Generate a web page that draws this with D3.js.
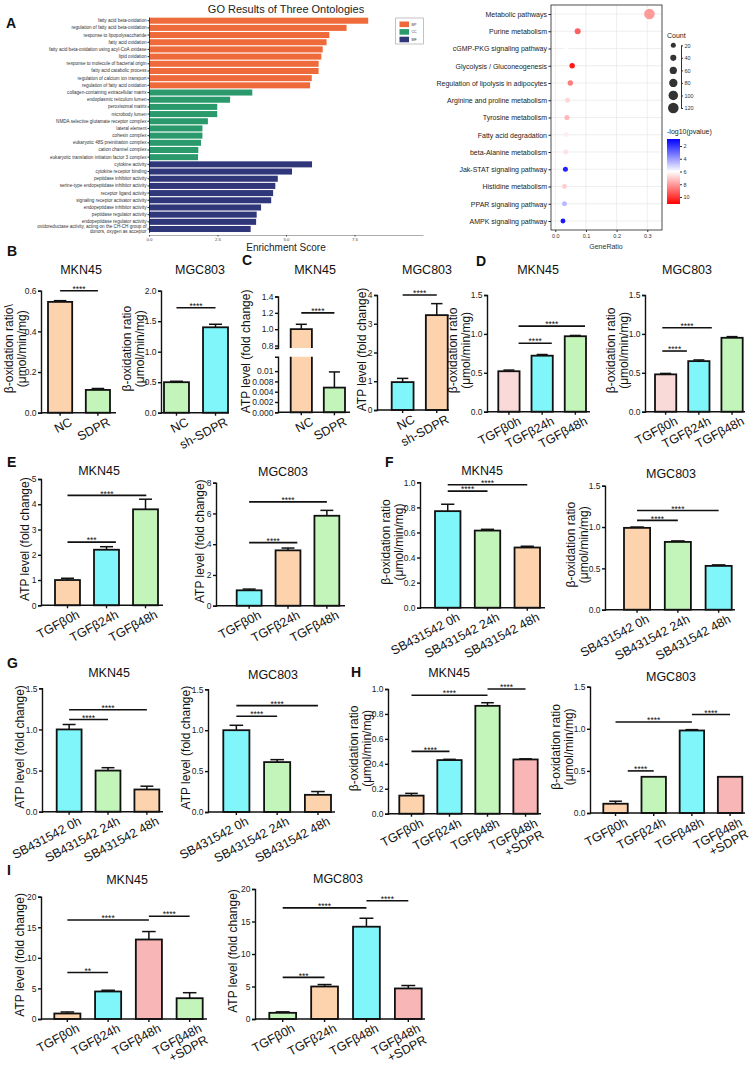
<!DOCTYPE html>
<html>
<head>
<meta charset="utf-8">
<script src="https://cdn.jsdelivr.net/npm/d3@7"></script>
<style>
  body { margin: 0; background: #fff; }
  svg { display: block; font-family: "Liberation Sans", Arial, sans-serif; }
</style>
</head>
<body>
<svg id="fig" width="756" height="1065"></svg>
<script>
// --- A: GO enrichment (three ontologies) ---
const goTermsBP = ["fatty acid beta-oxidation", "regulation of fatty acid beta-oxidation", "response to lipopolysaccharide",
  "fatty acid oxidation", "fatty acid beta-oxidation using acyl-CoA oxidase", "lipid oxidation",
  "response to molecule of bacterial origin", "fatty acid catabolic process", "regulation of calcium ion transport",
  "regulation of fatty acid oxidation"];
const goScoresBP = [8.0, 7.21, 6.58, 6.48, 6.34, 6.29, 6.19, 6.19, 5.94, 5.88];
const goTermsCC = ["collagen-containing extracellular matrix", "endoplasmic reticulum lumen", "peroxisomal matrix",
  "microbody lumen", "NMDA selective glutamate receptor complex", "lateral element", "cohesin complex",
  "eukaryotic 48S preinitiation complex", "cation channel complex", "eukaryotic translation initiation factor 3 complex"];
const goScoresCC = [3.77, 2.96, 2.49, 2.49, 2.15, 1.95, 1.95, 1.90, 1.80, 1.79];
const goTermsMF = ["cytokine activity", "cytokine receptor binding", "peptidase inhibitor activity",
  "serine-type endopeptidase inhibitor activity", "receptor ligand activity", "signaling receptor activator activity",
  "endopeptidase inhibitor activity", "peptidase regulator activity", "endopeptidase regulator activity",
  "oxidoreductase activity, acting on the CH-CH group of\ndonors, oxygen as acceptor"];
const goScoresMF = [5.95, 5.22, 4.70, 4.61, 4.53, 4.46, 4.09, 3.93, 3.91, 3.71];
const goOntologies = ["BP", "CC", "MF"];
const goTicks = [0, 2.5, 5, 7.5];

// --- A: KEGG dot plot ---
const keggPathways = ["Metabolic pathways", "Purine metabolism", "cGMP-PKG signaling pathway",
  "Glycolysis / Gluconeogenesis", "Regulation of lipolysis in adipocytes", "Arginine and proline metabolism",
  "Tyrosine metabolism", "Fatty acid degradation", "beta-Alanine metabolism", "Jak-STAT signaling pathway",
  "Histidine metabolism", "PPAR signaling pathway", "AMPK signaling pathway"];
const keggGeneRatio = [0.307, 0.073, 0.035, 0.055, 0.049, 0.040, 0.038, 0.035, 0.034, 0.033, 0.030, 0.030, 0.025];
const keggCount = [120, 38, 18, 28, 26, 20, 22, 16, 18, 20, 18, 18, 18];
const keggLogP = [8.0, 9.2, 6.0, 10.6, 8.6, 6.8, 7.4, 6.35, 6.6, 1.6, 7.0, 4.6, 1.4];
const keggTicks = [0, 0.1, 0.2, 0.3];
const countBreaks = [20, 40, 60, 80, 100, 120];
const logPTicks = [2, 4, 6, 8, 10];

// --- bar panels B-I: categories ---
const catNC = ["NC", "SDPR"];
const catSh = ["NC", "sh-SDPR"];
const catTGF = ["TGFβ0h", "TGFβ24h", "TGFβ48h"];
const catSB = ["SB431542 0h", "SB431542 24h", "SB431542 48h"];
const catRescue = ["TGFβ0h", "TGFβ24h", "TGFβ48h", "TGFβ48h\n+SDPR"];

// mean values and SEM per panel
const bMknVal = [0.545, 0.112], bMknErr = [0.006, 0.007];
const bMgcVal = [0.50, 1.40],   bMgcErr = [0.015, 0.05];
const cMknVal = [1.0, 0.006],   cMknErr = [0.06, 0.0038];
const cMgcVal = [0.97, 3.3],    cMgcErr = [0.13, 0.4];
const dMknVal = [0.52, 0.72, 0.97], dMknErr = [0.015, 0.015, 0.01];
const dMgcVal = [0.48, 0.65, 0.95], dMgcErr = [0.012, 0.015, 0.015];
const eMknVal = [1.0, 2.2, 3.8],    eMknErr = [0.07, 0.12, 0.4];
const eMgcVal = [1.0, 3.6, 5.85],   eMgcErr = [0.08, 0.15, 0.35];
const fMknVal = [0.77, 0.615, 0.48], fMknErr = [0.055, 0.01, 0.01];
const fMgcVal = [0.99, 0.82, 0.53],  fMgcErr = [0.01, 0.012, 0.012];
const gMknVal = [1.0, 0.5, 0.27],    gMknErr = [0.06, 0.035, 0.04];
const gMgcVal = [1.0, 0.61, 0.21],   gMgcErr = [0.06, 0.03, 0.04];
const hMknVal = [0.145, 0.43, 0.865, 0.435], hMknErr = [0.018, 0.006, 0.025, 0.005];
const hMgcVal = [0.11, 0.43, 0.98, 0.43],    hMgcErr = [0.03, 0, 0.01, 0];
const iMknVal = [0.9, 4.5, 13, 3.4],  iMknErr = [0.25, 0.2, 1.3, 0.9];
const iMgcVal = [0.95, 5.0, 14.2, 4.7], iMgcErr = [0.15, 0.3, 1.3, 0.45];

// significance brackets: [from group, to group, height, stars]
const bMknSig = [[0, 1, 0.6, "****"]];
const bMgcSig = [[0, 1, 1.72, "****"]];
const cMknSig = [[0, 1, 1.2, "****"]];
const cMgcSig = [[0, 1, 4.0, "****"]];
const dMknSig = [[0.29, 1.29, 0.88, "****"], [0.29, 2.29, 1.1, "****"]];
const dMgcSig = [[-0.1, 0.64, 0.78, "****"], [-0.1, 1.39, 1.08, "****"]];
const eMknSig = [[0, 1.24, 2.5, "***"], [0, 2.02, 4.35, "****"]];
const eMgcSig = [[0, 1.24, 4.1, "****"], [0, 2, 6.75, "****"]];
const fMknSig = [[0, 1, 0.93, "****"], [0, 2, 0.98, "****"]];
const fMgcSig = [[0, 1, 1.08, "****"], [0, 2, 1.2, "****"]];
const gMknSig = [[0, 1, 1.12, "****"], [0, 2, 1.24, "****"]];
const gMgcSig = [[0, 1, 1.17, "****"], [0, 2, 1.3, "****"]];
const hMknSig = [[0, 1, 0.5, "****"], [0, 2, 0.95, "****"], [2, 3, 1.0, "****"]];
const hMgcSig = [[0.32, 1, 0.5, "****"], [0, 2, 1.08, "****"], [2, 3, 1.17, "****"]];
const iMknSig = [[0, 1, 7.6, "**"], [0, 2, 16.2, "****"], [2, 3, 16.8, "****"]];
const iMgcSig = [[0, 1, 6.4, "***"], [0, 2, 17.1, "****"], [2, 3, 18.2, "****"]];

// C (MKN45) broken axis ticks
const cLowTicks = [0, 0.0025, 0.005, 0.0075, 0.01];
const cLowLabels = ["0.000", "0.002", "0.004", "0.008", "0.01"];
const cHighTicks = [0.8, 1.0, 1.2, 1.4];

const INK = "#111";
const peach = "#FDD3AE", cyan = "#80F6FA", green = "#C3F5BA", pink = "#FAD9D9", salmon = "#F8B6B6";
const goColors = { BP: "#EF6A3A", CC: "#2A9A6C", MF: "#30367A" };
const BETA = ["β-oxidation ratio", "(μmol/min/mg)"];
const ATP = ["ATP level (fold change)"];

const svg = d3.select("#fig");
svg.append("rect").attr("width", 756).attr("height", 1065).attr("fill", "#fff");

function styleAxis(sel, fs, col) {
  sel.attr("font-family", null).attr("font-size", null);
  sel.selectAll("text").attr("font-size", fs).attr("fill", col || INK);
  sel.selectAll(".domain, .tick line").attr("stroke", col || INK);
}

// ===== Panel A: GO bars =====
(function () {
  const rows = [];
  [[goTermsBP, goScoresBP], [goTermsCC, goScoresCC], [goTermsMF, goScoresMF]].forEach(([terms, scores], k) => {
    terms.forEach((t, i) => rows.push({ term: t, score: scores[i], ont: goOntologies[k] }));
  });
  const x = d3.scaleLinear().domain([0, 10]).range([149, 423]);
  const y = d3.scaleBand().domain(rows.map(d => d.term)).range([17.1, 232.6]).paddingInner(0.16).paddingOuter(0.08);
  const g = svg.append("g");

  g.append("text").attr("x", 286).attr("y", 13).attr("text-anchor", "middle")
    .attr("font-size", 11).attr("fill", "#222").text("GO Results of Three Ontologies");

  g.selectAll("rect.go").data(rows).join("rect").attr("class", "go")
    .attr("x", x(0)).attr("y", d => y(d.term))
    .attr("width", d => x(d.score) - x(0)).attr("height", y.bandwidth())
    .attr("fill", d => goColors[d.ont]);

  const ay = g.append("g").attr("transform", `translate(${x(0)},0)`)
    .call(d3.axisLeft(y).tickSize(1.5).tickPadding(1).tickSizeOuter(0));
  styleAxis(ay, 4.6, "#333");
  ay.select(".domain").attr("stroke", "#111").attr("stroke-width", 0.7);
  ay.selectAll(".tick text").each(function (d) {
    const lines = d.split("\n");
    if (lines.length < 2) return;
    const t = d3.select(this), xx = t.attr("x");
    t.text(null).attr("dy", null);
    lines.forEach((l, k) => t.append("tspan").attr("x", xx).attr("dy", k ? "1.05em" : "-0.2em").text(l));
  });

  const ax = g.append("g").attr("transform", "translate(0,235)")
    .call(d3.axisBottom(x).tickValues(goTicks).tickFormat(d3.format(".1f")).tickSize(1.5).tickPadding(1).tickSizeOuter(0));
  styleAxis(ax, 4.4, "#444");
  ax.select(".domain").attr("stroke", "#999").attr("stroke-width", 0.8);

  g.append("text").attr("x", 286).attr("y", 250.5).attr("text-anchor", "middle")
    .attr("font-size", 10).attr("fill", "#222").text("Enrichment Score");

  // legend
  const lg = g.append("g");
  lg.append("rect").attr("x", 395.7).attr("y", 18).attr("width", 27.6).attr("height", 26)
    .attr("fill", "#fff").attr("stroke", "#999").attr("stroke-width", 0.6);
  goOntologies.forEach((o, k) => {
    lg.append("rect").attr("x", 399.5).attr("y", 21.5 + k * 7.6).attr("width", 9.5).attr("height", 5.6).attr("fill", goColors[o]);
    lg.append("text").attr("x", 411.5).attr("y", 25.8 + k * 7.6).attr("font-size", 3.6).attr("fill", "#333").text(o);
  });
})();

// ===== Panel A: KEGG dot plot =====
(function () {
  const x = d3.scaleLinear().domain([-0.014, 0.348]).range([551, 662]);
  const y = d3.scalePoint().domain(keggPathways).range([14, 221]);
  const r = d3.scaleLinear().domain([20, 120]).range([2.5, 5.3]);
  const col = d3.scaleLinear().domain([0.9, 6, 11.1]).range(["#0000ff", "#ffffff", "#ff0000"]);
  const g = svg.append("g");

  g.selectAll("line.hg").data(keggPathways).join("line").attr("class", "hg")
    .attr("x1", 551).attr("x2", 662).attr("y1", d => y(d)).attr("y2", d => y(d))
    .attr("stroke", "#e6e6e6").attr("stroke-width", 0.7);
  g.selectAll("line.vg").data(keggTicks).join("line").attr("class", "vg")
    .attr("x1", d => x(d)).attr("x2", d => x(d)).attr("y1", 5).attr("y2", 230)
    .attr("stroke", "#e6e6e6").attr("stroke-width", 0.7);

  const pts = keggPathways.map((p, i) => ({ p, ratio: keggGeneRatio[i], n: keggCount[i], lp: keggLogP[i] }));
  g.selectAll("circle.k").data(pts).join("circle").attr("class", "k")
    .attr("cx", d => x(d.ratio)).attr("cy", d => y(d.p)).attr("r", d => r(d.n))
    .attr("fill", d => col(d.lp));

  g.append("rect").attr("x", 551).attr("y", 5).attr("width", 111).attr("height", 225)
    .attr("fill", "none").attr("stroke", "#222").attr("stroke-width", 0.8);

  const ay = g.append("g").attr("transform", "translate(551,0)")
    .call(d3.axisLeft(y).tickSize(2.5).tickPadding(1.5));
  styleAxis(ay, 7, "#222");
  ay.select(".domain").remove();

  const ax = g.append("g").attr("transform", "translate(0,230)")
    .call(d3.axisBottom(x).tickValues(keggTicks).tickFormat(d3.format(".1f")).tickSize(2).tickPadding(2).tickSizeOuter(0));
  styleAxis(ax, 5.5, "#333");
  ax.select(".domain").remove();
  g.append("text").attr("x", 606).attr("y", 249).attr("text-anchor", "middle")
    .attr("font-size", 7).attr("fill", "#333").text("GeneRatio");

  // count legend
  g.append("text").attr("x", 667).attr("y", 38).attr("font-size", 7).attr("fill", "#222").text("Count");
  const cy = d3.scalePoint().domain(countBreaks).range([45.3, 108]);
  g.selectAll("circle.cl").data(countBreaks).join("circle").attr("class", "cl")
    .attr("cx", 673.3).attr("cy", d => cy(d)).attr("r", d => r(d)).attr("fill", "#333");
  const ca = g.append("g").attr("transform", "translate(681,0)")
    .call(d3.axisRight(cy).tickSize(2).tickPadding(1.5).tickSizeOuter(0));
  styleAxis(ca, 5.5, "#333");

  // colour bar
  g.append("text").attr("x", 667).attr("y", 134).attr("font-size", 7).attr("fill", "#222").text("-log10(pvalue)");
  const cb = d3.scaleLinear().domain([0.9, 11.1]).range([139, 204]);
  const grad = svg.append("defs").append("linearGradient").attr("id", "cbGrad")
    .attr("x1", 0).attr("x2", 0).attr("y1", 0).attr("y2", 1);
  d3.range(0, 1.0001, 0.1).forEach(t => {
    grad.append("stop").attr("offset", t).attr("stop-color", col(0.9 + t * 10.2));
  });
  g.append("rect").attr("x", 667).attr("y", 139).attr("width", 13).attr("height", 65).attr("fill", "url(#cbGrad)");
  const cba = g.append("g").attr("transform", "translate(680,0)")
    .call(d3.axisRight(cb).tickValues(logPTicks).tickSize(2).tickPadding(1.5).tickSizeOuter(0));
  styleAxis(cba, 5.5, "#333");
  cba.select(".domain").remove();
})();

// ===== bar panels =====
function barPanel(p) {
  const g = svg.append("g");
  const x = d3.scaleBand().domain(p.cats).range(p.bars).paddingInner(0.36).paddingOuter(0);
  const bw = x.bandwidth(), step = x.step();
  const cx = t => p.bars[0] + bw / 2 + t * step;

  let yOf, axes, top;
  if (p.brk) {
    const b = p.brk;
    const yl = d3.scaleLinear().domain(b.low).range(b.lowPix);
    const yh = d3.scaleLinear().domain(b.high).range(b.highPix);
    yOf = v => (v >= b.high[0] ? yh(v) : yl(v));
    axes = [
      d3.axisLeft(yl).tickValues(b.lowTicks).tickFormat((d, i) => b.lowLabels[i]).tickSizeOuter(3),
      d3.axisLeft(yh).tickValues(b.highTicks).tickFormat(d3.format(".1f")).tickSizeOuter(3)
    ];
    top = b.highPix[1];
  } else {
    const y = d3.scaleLinear().domain(p.domain).range([p.y0, p.y1]);
    yOf = y;
    axes = [d3.axisLeft(y).tickValues(p.ticks).tickFormat(d3.format(p.fmt)).tickSizeOuter(0)];
    top = p.y1;
  }
  const base = yOf(0);
  const rows = p.vals.map((v, i) => ({ c: p.cats[i], v, e: p.errs[i], f: p.fill[i], i }));
  const broken = d => p.brk && d.v >= p.brk.high[0];

  // plain bars
  g.selectAll("rect.bar").data(rows.filter(d => !broken(d))).join("rect").attr("class", "bar")
    .attr("x", d => x(d.c)).attr("width", bw)
    .attr("y", d => yOf(d.v)).attr("height", d => base - yOf(d.v))
    .attr("fill", d => d.f).attr("stroke", INK).attr("stroke-width", 1.8);

  // bars crossing the axis break
  rows.filter(broken).forEach(d => {
    const bx = x(d.c), lowTop = p.brk.lowPix[1], highBot = p.brk.highPix[0], yt = yOf(d.v);
    g.append("rect").attr("x", bx).attr("y", lowTop).attr("width", bw).attr("height", base - lowTop).attr("fill", d.f);
    g.append("rect").attr("x", bx).attr("y", yt).attr("width", bw).attr("height", highBot - yt).attr("fill", d.f);
    g.append("path")
      .attr("d", `M${bx},${lowTop}V${base}H${bx + bw}V${lowTop}M${bx},${highBot}V${yt}H${bx + bw}V${highBot}`)
      .attr("fill", "none").attr("stroke", INK).attr("stroke-width", 1.8);
  });

  // error bars (upper half, GraphPad style)
  const eb = rows.filter(d => d.e > 0);
  g.selectAll("line.err").data(eb).join("line").attr("class", "err")
    .attr("x1", d => cx(d.i)).attr("x2", d => cx(d.i))
    .attr("y1", d => yOf(d.v)).attr("y2", d => yOf(d.v + d.e))
    .attr("stroke", INK).attr("stroke-width", 1.5);
  g.selectAll("line.cap").data(eb).join("line").attr("class", "cap")
    .attr("x1", d => cx(d.i) - bw * 0.26).attr("x2", d => cx(d.i) + bw * 0.26)
    .attr("y1", d => yOf(d.v + d.e)).attr("y2", d => yOf(d.v + d.e))
    .attr("stroke", INK).attr("stroke-width", 1.5);

  // y axis
  axes.forEach(a => {
    const ag = g.append("g").attr("transform", `translate(${p.ax},0)`)
      .call(a.tickSize(3).tickPadding(1.5));
    styleAxis(ag, 8.5, "#222");
    ag.selectAll(".domain, .tick line").attr("stroke", INK).attr("stroke-width", 1.4);
  });

  // x axis
  const xg = g.append("g").attr("transform", `translate(0,${base})`)
    .call(d3.axisBottom(x).tickSize(3).tickSizeOuter(0));
  styleAxis(xg, 12.5, INK);
  xg.select(".domain").remove();
  xg.selectAll(".tick line").attr("stroke-width", 1.4);
  xg.selectAll(".tick text").each(function (d) {
    const t = d3.select(this);
    t.text(null).attr("y", null).attr("dy", null).attr("text-anchor", "end")
      .attr("transform", "translate(13,12) rotate(-28)");
    d.split("\n").forEach((l, k) => t.append("tspan").attr("x", 0).attr("dy", k ? "1.05em" : 0).text(l));
  });
  g.append("line").attr("x1", p.ax).attr("x2", p.xEnd).attr("y1", base).attr("y2", base)
    .attr("stroke", INK).attr("stroke-width", 1.5);

  // significance brackets
  g.selectAll("line.sig").data(p.sig).join("line").attr("class", "sig")
    .attr("x1", d => cx(d[0])).attr("x2", d => cx(d[1]))
    .attr("y1", d => yOf(d[2])).attr("y2", d => yOf(d[2]))
    .attr("stroke", INK).attr("stroke-width", 1.6);
  g.selectAll("text.sig").data(p.sig).join("text").attr("class", "sig")
    .attr("x", d => (cx(d[0]) + cx(d[1])) / 2).attr("y", d => yOf(d[2]) + 1.2)
    .attr("text-anchor", "middle").attr("font-size", 8.5).attr("fill", INK).text(d => d[3]);

  // title and y label
  g.append("text").attr("x", p.tx).attr("y", p.ty).attr("text-anchor", "middle")
    .attr("font-size", 12.5).attr("fill", INK).text(p.title);
  const yc = (base + top) / 2 - 3;
  p.ylab.forEach((l, k) => {
    g.append("text").attr("transform", `translate(${p.lx[k]},${yc}) rotate(-90)`)
      .attr("text-anchor", "middle").attr("dominant-baseline", "central")
      .attr("font-size", 12).attr("fill", INK).text(l);
  });
}

const panels = [
  { cats: catNC, vals: bMknVal, errs: bMknErr, fill: [peach, green], sig: bMknSig, domain: [0, 0.6], ticks: [0, 0.2, 0.4, 0.6], fmt: ".1f",
    ax: 41, xEnd: 116, y0: 412.7, y1: 290.7, bars: [48, 110], title: "MKN45", tx: 81, ty: 274,
    ylab: ["β-oxidation ratio\\", "(μmol/min/mg)"], lx: [9, 22] },
  { cats: catSh, vals: bMgcVal, errs: bMgcErr, fill: [green, cyan], sig: bMgcSig, domain: [0, 2], ticks: [0, 0.5, 1, 1.5, 2], fmt: ".1f",
    ax: 161, xEnd: 229, y0: 412.7, y1: 290.7, bars: [164, 228], title: "MGC803", tx: 200, ty: 274, ylab: BETA, lx: [127, 140] },
  { cats: catNC, vals: cMknVal, errs: cMknErr, fill: [peach, green], sig: cMknSig,
    brk: { low: [0, 0.0135], lowPix: [412.3, 356.7], high: [0.77, 1.4], highPix: [348, 296.5],
           lowTicks: cLowTicks, lowLabels: cLowLabels, highTicks: cHighTicks },
    ax: 278, xEnd: 350, bars: [290.7, 345], title: "MKN45", tx: 315, ty: 274, ylab: ATP, lx: [246] },
  { cats: catSh, vals: cMgcVal, errs: cMgcErr, fill: [cyan, peach], sig: cMgcSig, domain: [0, 4], ticks: [0, 1, 2, 3, 4], fmt: "d",
    ax: 377, xEnd: 449, y0: 410, y1: 295, bars: [391.7, 447.7], title: "MGC803", tx: 427, ty: 274, ylab: ATP, lx: [362] },
  { cats: catTGF, vals: dMknVal, errs: dMknErr, fill: [pink, cyan, green], sig: dMknSig, domain: [0, 1.5], ticks: [0, 0.5, 1, 1.5], fmt: ".1f",
    ax: 487, xEnd: 590, y0: 411.7, y1: 295, bars: [498.3, 586], title: "MKN45", tx: 538, ty: 274, ylab: BETA, lx: [453, 466] },
  { cats: catTGF, vals: dMgcVal, errs: dMgcErr, fill: [pink, cyan, green], sig: dMgcSig, domain: [0, 1.5], ticks: [0, 0.5, 1, 1.5], fmt: ".1f",
    ax: 645, xEnd: 745, y0: 411.7, y1: 295, bars: [655, 742.7], title: "MGC803", tx: 687, ty: 274, ylab: BETA, lx: [611, 624] },

  { cats: catTGF, vals: eMknVal, errs: eMknErr, fill: [peach, cyan, green], sig: eMknSig, domain: [0, 5], ticks: [0, 1, 2, 3, 4, 5], fmt: "d",
    ax: 41, xEnd: 163, y0: 605.3, y1: 479, bars: [55, 158], title: "MKN45", tx: 99, ty: 475, ylab: ATP, lx: [25] },
  { cats: catTGF, vals: eMgcVal, errs: eMgcErr, fill: [cyan, peach, green], sig: eMgcSig, domain: [0, 8], ticks: [0, 2, 4, 6, 8], fmt: "d",
    ax: 216, xEnd: 345, y0: 605.7, y1: 482.7, bars: [236.7, 339.3], title: "MGC803", tx: 283, ty: 476, ylab: ATP, lx: [200] },
  { cats: catSB, vals: fMknVal, errs: fMknErr, fill: [cyan, green, peach], sig: fMknSig, domain: [0, 1], ticks: [0, 0.2, 0.4, 0.6, 0.8, 1], fmt: ".1f",
    ax: 420, xEnd: 545, y0: 607.7, y1: 482.3, bars: [435, 540], title: "MKN45", tx: 482, ty: 475, ylab: BETA, lx: [386, 399] },
  { cats: catSB, vals: fMgcVal, errs: fMgcErr, fill: [peach, green, cyan], sig: fMgcSig, domain: [0, 1.5], ticks: [0, 0.5, 1, 1.5], fmt: ".1f",
    ax: 605, xEnd: 735, y0: 609.7, y1: 485.7, bars: [624, 731.7], title: "MGC803", tx: 671, ty: 478, ylab: BETA, lx: [571, 584] },

  { cats: catSB, vals: gMknVal, errs: gMknErr, fill: [cyan, green, peach], sig: gMknSig, domain: [0, 1.5], ticks: [0, 0.5, 1, 1.5], fmt: ".1f",
    ax: 42, xEnd: 163, y0: 811.7, y1: 688.3, bars: [56.7, 159.3], title: "MKN45", tx: 109, ty: 677, ylab: ATP, lx: [20] },
  { cats: catSB, vals: gMgcVal, errs: gMgcErr, fill: [cyan, green, peach], sig: gMgcSig, domain: [0, 1.5], ticks: [0, 0.5, 1, 1.5], fmt: ".1f",
    ax: 208, xEnd: 335, y0: 812, y1: 689.3, bars: [223.3, 331], title: "MGC803", tx: 273, ty: 679, ylab: ATP, lx: [186] },
  { cats: catRescue, vals: hMknVal, errs: hMknErr, fill: [peach, cyan, green, salmon], sig: hMknSig, domain: [0, 1], ticks: [0, 0.2, 0.4, 0.6, 0.8, 1], fmt: ".1f",
    ax: 388, xEnd: 541, y0: 813.7, y1: 689, bars: [399.3, 537.7], title: "MKN45", tx: 449, ty: 677, ylab: BETA, lx: [354, 367] },
  { cats: catRescue, vals: hMgcVal, errs: hMgcErr, fill: [peach, green, cyan, salmon], sig: hMgcSig, domain: [0, 1.5], ticks: [0, 0.5, 1, 1.5], fmt: ".1f",
    ax: 590, xEnd: 745, y0: 813, y1: 686.7, bars: [603.3, 742.3], title: "MGC803", tx: 671, ty: 681, ylab: BETA, lx: [556, 569] },

  { cats: catRescue, vals: iMknVal, errs: iMknErr, fill: [peach, cyan, salmon, green], sig: iMknSig, domain: [0, 20], ticks: [0, 5, 10, 15, 20], fmt: "d",
    ax: 41, xEnd: 207, y0: 1019, y1: 896.7, bars: [54.3, 202.7], title: "MKN45", tx: 127, ty: 884, ylab: ATP, lx: [20] },
  { cats: catRescue, vals: iMgcVal, errs: iMgcErr, fill: [green, peach, cyan, salmon], sig: iMgcSig, domain: [0, 20], ticks: [0, 5, 10, 15, 20], fmt: "d",
    ax: 255, xEnd: 425, y0: 1019, y1: 889, bars: [269.3, 421.7], title: "MGC803", tx: 338, ty: 883, ylab: ATP, lx: [233] }
];
panels.forEach(barPanel);

// panel letters
const letters = [["A", 6, 28], ["B", 7, 256], ["C", 242, 265], ["D", 476, 266], ["E", 7, 467],
  ["F", 385, 467], ["G", 7, 668], ["H", 351, 677], ["I", 7, 875]];
svg.selectAll("text.letter").data(letters).join("text").attr("class", "letter")
  .attr("x", d => d[1]).attr("y", d => d[2]).attr("font-size", 14).attr("font-weight", "bold")
  .attr("fill", INK).text(d => d[0]);
</script>
</body>
</html>
